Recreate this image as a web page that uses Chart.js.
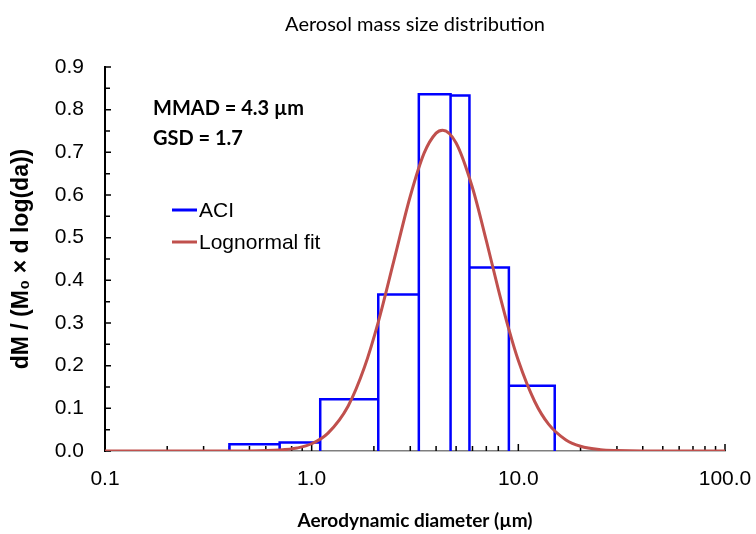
<!DOCTYPE html>
<html>
<head>
<meta charset="utf-8">
<script src="https://cdn.jsdelivr.net/npm/chart.js@4.4.1/dist/chart.umd.min.js"></script>
<style>
  html, body { margin: 0; padding: 0; background: #fff; }
</style>
</head>
<body>
<canvas id="sizeChart" width="756" height="534"></canvas>
<script>
// ACI stage cut-offs (um) and normalised mass per stage
const binEdges = [0.4, 0.7, 1.1, 2.1, 3.3, 4.7, 5.8, 9.0, 15];
const aciValues = [0.016, 0.020, 0.121, 0.367, 0.836, 0.833, 0.430, 0.153];

// lognormal fit
const fitX = [0.1, 0.3, 0.5, 0.7, 0.85, 1.0, 1.2, 1.5, 1.8, 2.1, 2.5, 3.0, 3.5, 4.0, 4.3,
              5.0, 6.0, 7.0, 8.0, 9.0, 10, 12, 14, 17, 20, 25, 30, 40, 100];
const fitY = [0, 0, 0.0002, 0.0022, 0.0071, 0.017, 0.042, 0.105, 0.196, 0.302, 0.446, 0.597, 0.698, 0.745, 0.752,
              0.722, 0.617, 0.493, 0.379, 0.285, 0.212, 0.116, 0.063, 0.026, 0.011, 0.003, 0.001, 0, 0];

const xTickValues = [0.1, 1, 10, 100];
const xTickLabels = ["0.1", "1.0", "10.0", "100.0"];
const yTickLabels = ["0.0", "0.1", "0.2", "0.3", "0.4", "0.5", "0.6", "0.7", "0.8", "0.9"];

const annotationLines = ["MMAD = 4.3 \u00b5m", "GSD = 1.7"];

const BLUE = "#0000ff";
const RED = "#c0504d";

/* ---------------- DATA BUILD ---------------- */

// each bar is an open rectangle, separated by a null point
function barOutline() {
    const pts = [];
    for (let i = 0; i < aciValues.length; i++) {
        const l = binEdges[i], r = binEdges[i + 1], h = aciValues[i];
        pts.push({ x: l, y: 0 }, { x: l, y: h }, { x: r, y: h }, { x: r, y: 0 }, { x: r, y: null });
    }
    return pts;
}

const fitPoints = fitX.map((x, i) => ({ x: x, y: fitY[i] }));

/* ---------------- PLUGINS ---------------- */

// small inward ticks on both axes
const axisTicks = {
    id: "axisTicks",
    beforeDatasetsDraw(chart) {
        const { ctx, scales: { x, y } } = chart;
        ctx.save();
        ctx.strokeStyle = "#000";
        ctx.lineWidth = 1.5;
        ctx.beginPath();
        for (let k = 0; k <= 18; k++) {
            const py = y.getPixelForValue(k * 0.05);
            ctx.moveTo(x.left, py);
            ctx.lineTo(x.left + (k % 2 === 0 ? 6 : 5), py);
        }
        [0.1, 1, 10].forEach(d => {
            for (let m = 1; m <= 10; m++) {
                const v = d * m;
                if (v <= 0.1) continue;
                const px = x.getPixelForValue(v);
                ctx.moveTo(px, y.bottom);
                ctx.lineTo(px, y.bottom - (m === 10 ? 7 : 5));
            }
        });
        ctx.stroke();
        ctx.restore();
    }
};

// text box and legend drawn inside the plot
const notes = {
    id: "notes",
    afterDatasetsDraw(chart) {
        const ctx = chart.ctx;
        ctx.save();
        ctx.fillStyle = "#000";
        ctx.textBaseline = "middle";
        ctx.font = "bold 20px Lato";
        ctx.fillText(annotationLines[0], 153, 109);
        ctx.fillText(annotationLines[1], 153, 139);

        ctx.font = "21px 'Liberation Sans'";
        const rows = [chart.data.datasets[1], chart.data.datasets[0]];
        rows.forEach((ds, i) => {
            const yy = 210 + i * 32;
            ctx.strokeStyle = ds.borderColor;
            ctx.lineWidth = 3;
            ctx.beginPath();
            ctx.moveTo(172, yy);
            ctx.lineTo(197, yy);
            ctx.stroke();
            ctx.fillText(ds.label, 199, yy + 1);
        });
        ctx.restore();
    }
};

/* ---------------- CHART ---------------- */

new Chart(document.getElementById("sizeChart"), {
    type: "scatter",
    data: {
        datasets: [
            {
                label: "Lognormal fit",
                data: fitPoints,
                showLine: true,
                borderColor: RED,
                borderWidth: 3,
                pointRadius: 0,
                cubicInterpolationMode: "monotone"
            },
            {
                label: "ACI",
                data: barOutline(),
                showLine: true,
                spanGaps: false,
                borderColor: BLUE,
                borderWidth: 2.5,
                pointRadius: 0,
                tension: 0
            }
        ]
    },
    options: {
        responsive: false,
        animation: false,
        layout: { padding: { right: 31 } },
        plugins: {
            legend: { display: false },
            tooltip: { enabled: false },
            title: {
                display: true,
                fullSize: false,
                text: "Aerosol mass size distribution",
                color: "#000",
                font: { family: "Lato", size: 20, weight: "normal" },
                padding: { top: 13, bottom: 30 }
            }
        },
        scales: {
            x: {
                type: "logarithmic",
                min: 0.1,
                max: 100,
                afterBuildTicks: s => { s.ticks = xTickValues.map(v => ({ value: v })); },
                afterFit: s => { s.height = 83; s.paddingLeft = 0; s.paddingRight = 0; },
                grid: { display: false },
                border: { display: true, color: "#7f7f7f", width: 1.5 },
                ticks: {
                    autoSkip: false,
                    maxRotation: 0,
                    padding: 8,
                    color: "#000",
                    font: { family: "Liberation Sans", size: 21 },
                    callback: (v, i) => xTickLabels[i]
                },
                title: {
                    display: true,
                    text: "Aerodynamic diameter (\u00b5m)",
                    color: "#000",
                    font: { family: "Lato", size: 19, weight: "bold" },
                    padding: { top: 0, bottom: 2 }
                }
            },
            y: {
                min: 0,
                max: 0.9,
                afterFit: s => { s.width = 105; s.paddingTop = 0; s.paddingBottom = 0; },
                grid: { display: false },
                border: { display: true, color: "#000", width: 2 },
                ticks: {
                    stepSize: 0.1,
                    padding: 13,
                    color: "#000",
                    font: { family: "Liberation Sans", size: 21 },
                    callback: (v, i) => yTickLabels[i]
                },
                title: {
                    display: true,
                    text: "dM / (M\u2080 \u00d7 d log(da))",
                    color: "#000",
                    font: { family: "Liberation Sans", size: 23, weight: "bold" },
                    padding: { top: 8, bottom: 0 }
                }
            }
        }
    },
    plugins: [axisTicks, notes]
});
</script>
</body>
</html>
